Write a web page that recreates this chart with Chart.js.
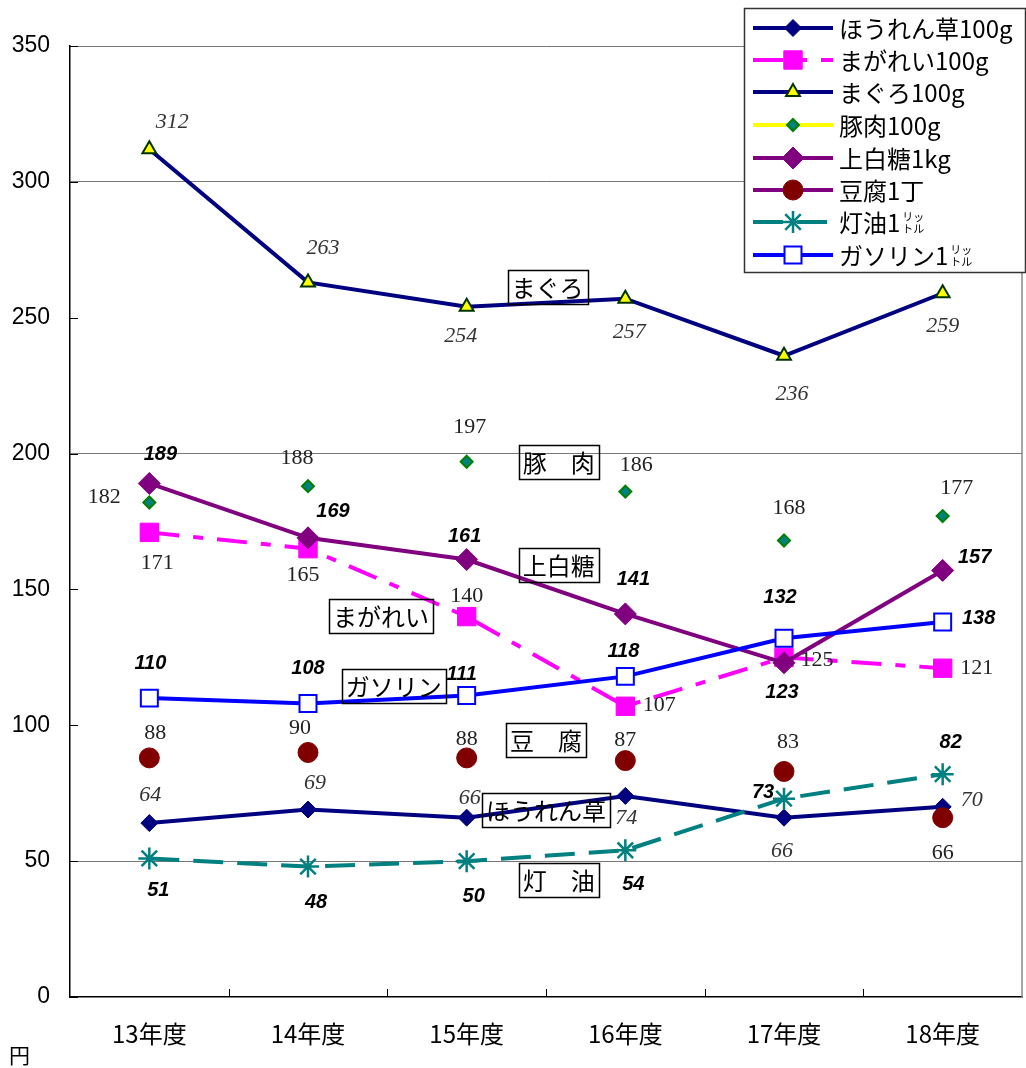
<!DOCTYPE html>
<html>
<head>
<meta charset="utf-8">
<script src="https://cdn.jsdelivr.net/npm/chart.js@4.4.0/dist/chart.umd.min.js"></script>
<style>
  html, body { margin: 0; padding: 0; background: #fff; }
  #wrap { width: 1026px; height: 1068px; }
</style>
</head>
<body>
<div id="wrap"><canvas id="c" width="1026" height="1068"></canvas></div>
<script>
// ---- data ----
var years = ["13年度", "14年度", "15年度", "16年度", "17年度", "18年度"];
var spinach = [64, 69, 66, 74, 66, 70];
var flounder = [171, 165, 140, 107, 125, 121];
var tuna = [312, 263, 254, 257, 236, 259];
var pork = [182, 188, 197, 186, 168, 177];
var sugar = [189, 169, 161, 141, 123, 157];
var tofu = [88, 90, 88, 87, 83, 66];
var kerosene = [51, 48, 50, 54, 73, 82];
var gasoline = [110, 108, 111, 118, 132, 138];
var gridValues = [50, 200, 300, 350];

// label offsets (px from point) for value labels
var spinachOff = [[1, -28], [7, -26], [3, -19], [1, 22], [-2, 34], [29, -7]];
var flounderOff = [[8, 31], [-5, 27], [0, -20], [34, -1], [33, 3], [34, 0]];
var tunaOff = [[23, -27], [15, -34], [-6, 29], [4, 34], [8, 38], [0, 33]];
var porkOff = [[-45, -5], [-11, -28], [3, -35], [11, -26], [5, -32], [14, -28]];
var sugarOff = [[11, -29], [25, -26], [-2, -23], [8, -34], [-2, 30], [32, -13]];
var tofuOff = [[6, -25], [-8, -24], [0, -19], [0, -20], [4, -29], [0, 36]];
var keroseneOff = [[9, 32], [8, 36], [7, 35], [8, 34], [-21, -6], [8, -32]];
var gasolineOff = [[1, -35], [0, -35], [-5, -21], [-2, -25], [-4, -41], [36, -4]];

var italicSerif = "italic 22px 'Liberation Serif', serif";
var plainSerif = "22px 'Liberation Serif', serif";
var boldItalic = "italic bold 20px 'Liberation Sans', sans-serif";

// text boxes on the chart (category index, value)
var boxTexts = ["まぐろ", "豚　肉", "上白糖", "まがれい", "ガソリン", "豆　腐", "ほうれん草", "灯　油"];
var boxX = [2.51, 2.58, 2.58, 1.46, 1.54, 2.5, 2.5, 2.58];
var boxY = [261.3, 196.9, 159, 140.2, 114.5, 94.6, 68.8, 43];

var gothic = "'Noto Sans CJK JP', 'Liberation Sans', sans-serif";

/*---------------- value labels ----------------*/
var valueLabels = {
    id: 'valueLabels',
    afterDatasetsDraw: function (chart) {
        var ctx = chart.ctx;
        ctx.save();
        ctx.textAlign = 'center';
        ctx.textBaseline = 'middle';
        chart.data.datasets.forEach(function (ds, di) {
            var meta = chart.getDatasetMeta(di);
            ctx.font = ds.labelFont;
            ctx.fillStyle = ds.labelColor;
            meta.data.forEach(function (pt, i) {
                var off = ds.labelOffsets[i];
                ctx.fillText(String(ds.data[i]), pt.x + off[0], pt.y + off[1]);
            });
        });
        ctx.restore();
    }
};

/*---------------- boxes, ticks, legend ----------------*/
var decorations = {
    id: 'decorations',
    beforeDatasetsDraw: function (chart) {
        var ctx = chart.ctx, a = chart.chartArea;
        var xs = chart.scales.x, ys = chart.scales.y;
        ctx.save();
        // right border
        ctx.strokeStyle = '#888';
        ctx.lineWidth = 1.5;
        ctx.beginPath();
        ctx.moveTo(a.right, a.top);
        ctx.lineTo(a.right, a.bottom);
        ctx.stroke();
        // inner tick marks
        ctx.strokeStyle = '#000';
        ctx.lineWidth = 1;
        ys.ticks.forEach(function (t) {
            var y = Math.round(ys.getPixelForValue(t.value)) + 0.5;
            ctx.beginPath();
            ctx.moveTo(a.left, y);
            ctx.lineTo(a.left + 8, y);
            ctx.stroke();
        });
        for (var i = 1; i < years.length; i++) {
            var x = Math.round(xs.getPixelForValue(i - 0.5)) + 0.5;
            ctx.beginPath();
            ctx.moveTo(x, a.bottom);
            ctx.lineTo(x, a.bottom - 8);
            ctx.stroke();
        }
        ctx.restore();
    },
    afterDraw: function (chart) {
        var ctx = chart.ctx;
        var xs = chart.scales.x, ys = chart.scales.y;
        ctx.save();
        // text boxes
        ctx.font = "24px " + gothic;
        ctx.textAlign = 'center';
        ctx.textBaseline = 'middle';
        for (var i = 0; i < boxTexts.length; i++) {
            var cx = xs.getPixelForValue(boxX[i]);
            var cy = ys.getPixelForValue(boxY[i]);
            var w = ctx.measureText(boxTexts[i]).width + 8;
            var h = 34;
            ctx.strokeStyle = '#000';
            ctx.lineWidth = 1.5;
            ctx.strokeRect(Math.round(cx - w / 2) + 0.5, Math.round(cy - h / 2) + 0.5, Math.round(w), h);
            ctx.fillStyle = '#000';
            ctx.fillText(boxTexts[i], cx, cy + 1);
        }

        // unit
        ctx.font = "21px " + gothic;
        ctx.textAlign = 'left';
        ctx.fillText('円', 9, 1055);

        // legend
        var lx = 744, ly = 8, lw = 281, lh = 264;
        ctx.fillStyle = '#fff';
        ctx.fillRect(lx, ly, lw, lh);
        ctx.strokeStyle = '#333';
        ctx.lineWidth = 1.5;
        ctx.strokeRect(lx + 0.5, ly + 0.5, lw, lh);
        var rowY = [28, 60, 92, 125, 158, 190, 222, 255];
        chart.data.datasets.forEach(function (ds, di) {
            var y = rowY[di];
            ctx.save();
            ctx.strokeStyle = ds.legendLine || ds.borderColor;
            ctx.lineWidth = 4;
            ctx.setLineDash(ds.borderDash || []);
            ctx.beginPath();
            ctx.moveTo(753, y);
            ctx.lineTo(833, y);
            ctx.stroke();
            ctx.setLineDash([]);
            ctx.fillStyle = ds.pointBackgroundColor;
            ctx.strokeStyle = ds.pointBorderColor;
            ctx.lineWidth = ds.pointBorderWidth;
            Chart.helpers.drawPoint(ctx, {
                pointStyle: ds.pointStyle,
                radius: ds.pointRadius,
                rotation: 0,
                borderWidth: ds.pointBorderWidth
            }, 793, y);
            ctx.restore();

            ctx.fillStyle = '#000';
            ctx.font = "24px " + gothic;
            ctx.textAlign = 'left';
            ctx.textBaseline = 'middle';
            ctx.fillText(ds.label, 839, y + 1);
            if (ds.legendSup) {
                var tw = ctx.measureText(ds.label).width;
                ctx.font = "11px " + gothic;
                ctx.fillText('リッ', 839 + tw + 2, y - 5);
                ctx.fillText('トル', 839 + tw + 2, y + 7);
            }
        });
        ctx.restore();
    }
};

function lineSet(label, data, opts) {
    var ds = {
        label: label,
        data: data,
        tension: 0,
        borderWidth: 4,
        fill: false,
        pointBorderWidth: 1,
        pointHoverRadius: 0
    };
    for (var k in opts) ds[k] = opts[k];
    return ds;
}

var datasets = [
    lineSet('ほうれん草100g', spinach, {
        order: 8, borderColor: '#000080', pointStyle: 'rectRot', pointRadius: 8.5,
        pointBackgroundColor: '#000080', pointBorderColor: '#000080',
        labelFont: italicSerif, labelColor: '#333', labelOffsets: spinachOff
    }),
    lineSet('まがれい100g', flounder, {
        order: 7, borderColor: '#FF00FF', borderDash: [30, 14, 10, 14], pointStyle: 'rect', pointRadius: 13,
        pointBackgroundColor: '#FF00FF', pointBorderColor: '#FF00FF',
        labelFont: plainSerif, labelColor: '#222', labelOffsets: flounderOff
    }),
    lineSet('まぐろ100g', tuna, {
        order: 6, borderColor: '#000080', pointStyle: 'triangle', pointRadius: 8,
        pointBackgroundColor: '#FFFF00', pointBorderColor: '#003300', pointBorderWidth: 2,
        labelFont: italicSerif, labelColor: '#333', labelOffsets: tunaOff
    }),
    lineSet('豚肉100g', pork, {
        order: 5, borderColor: '#FFFF00', showLine: false, pointStyle: 'rectRot', pointRadius: 6,
        pointBackgroundColor: '#008080', pointBorderColor: '#008000', pointBorderWidth: 2,
        labelFont: plainSerif, labelColor: '#222', labelOffsets: porkOff
    }),
    lineSet('上白糖1kg', sugar, {
        order: 4, borderColor: '#800080', pointStyle: 'rectRot', pointRadius: 11,
        pointBackgroundColor: '#800080', pointBorderColor: '#800080',
        labelFont: boldItalic, labelColor: '#000', labelOffsets: sugarOff
    }),
    lineSet('豆腐1丁', tofu, {
        order: 3, borderColor: '#800080', showLine: false, pointStyle: 'circle', pointRadius: 10,
        pointBackgroundColor: '#800000', pointBorderColor: '#800000',
        labelFont: plainSerif, labelColor: '#222', labelOffsets: tofuOff
    }),
    lineSet('灯油1', kerosene, {
        order: 2, borderColor: '#008080', borderDash: [30, 14], pointStyle: 'star', pointRadius: 11,
        pointBackgroundColor: '#008080', pointBorderColor: '#008080', pointBorderWidth: 2.5,
        labelFont: boldItalic, labelColor: '#000', labelOffsets: keroseneOff, legendSup: true
    }),
    lineSet('ガソリン1', gasoline, {
        order: 1, borderColor: '#0000FF', pointStyle: 'rect', pointRadius: 12,
        pointBackgroundColor: '#FFFFFF', pointBorderColor: '#0000FF', pointBorderWidth: 2,
        labelFont: boldItalic, labelColor: '#000', labelOffsets: gasolineOff, legendSup: true
    })
];

new Chart(document.getElementById('c').getContext('2d'), {
    type: 'line',
    data: { labels: years, datasets: datasets },
    options: {
        responsive: false,
        animation: false,
        devicePixelRatio: 1,
        layout: { autoPadding: false, padding: { top: 46, right: 4, left: 0, bottom: 0 } },
        plugins: {
            legend: { display: false },
            tooltip: { enabled: false }
        },
        scales: {
            x: {
                type: 'category',
                offset: true,
                grid: { display: false, drawTicks: false },
                border: { display: true, color: '#000', width: 1.5 },
                ticks: {
                    color: '#000',
                    padding: 22,
                    font: { family: gothic, size: 24 },
                    maxRotation: 0
                },
                afterFit: function (s) {
                    s.height = 71;
                    s.paddingLeft = 0;
                    s.paddingRight = 0;
                }
            },
            y: {
                min: 0,
                max: 350,
                grid: {
                    drawTicks: false,
                    color: function (c) {
                        return gridValues.indexOf(c.tick.value) >= 0 ? '#777' : 'rgba(0,0,0,0)';
                    },
                    lineWidth: 1
                },
                border: { display: true, color: '#000', width: 1.5 },
                ticks: {
                    stepSize: 50,
                    color: '#000',
                    padding: 20,
                    font: { family: "'Liberation Sans', sans-serif", size: 23 }
                },
                afterFit: function (s) {
                    s.width = 70;
                    s.paddingTop = 0;
                    s.paddingBottom = 0;
                }
            }
        }
    },
    plugins: [decorations, valueLabels]
});
</script>
</body>
</html>
